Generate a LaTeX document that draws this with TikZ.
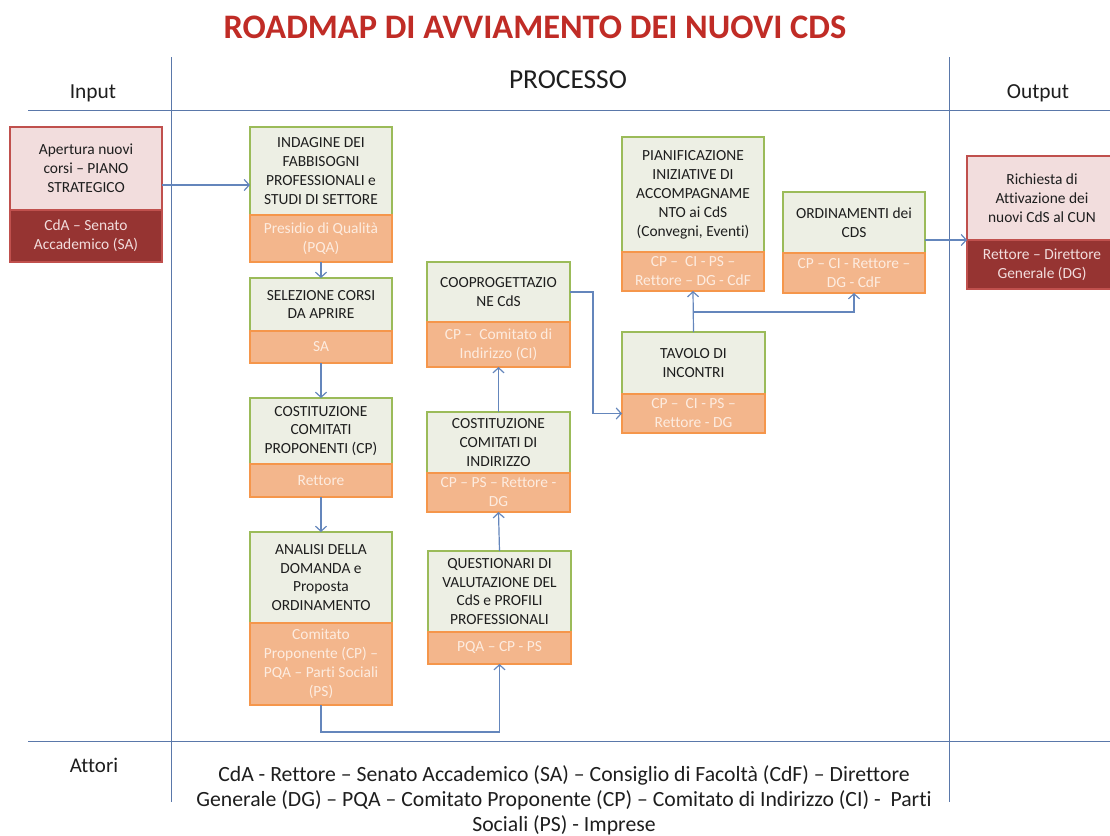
\documentclass[tikz,border=0pt]{standalone}
\usepackage{fontspec}
\setmainfont{Carlito}[Ligatures=NoCommon]
\usetikzlibrary{arrows.meta}
\definecolor{grnB}{RGB}{155,187,89}
\definecolor{grnF}{RGB}{237,239,228}
\definecolor{orB}{RGB}{245,150,75}
\definecolor{orF}{RGB}{243,182,140}
\definecolor{orT}{RGB}{253,236,224}
\definecolor{redB}{RGB}{192,80,77}
\definecolor{pinkF}{RGB}{242,221,221}
\definecolor{darkF}{RGB}{150,52,50}
\definecolor{lineC}{RGB}{100,134,188}
\definecolor{sepC}{RGB}{90,120,170}
\definecolor{titleC}{RGB}{192,44,38}
\definecolor{txtC}{RGB}{30,30,30}
\tikzset{
  base/.style={rectangle, inner sep=0pt, outer sep=0pt, line width=2.4bp, align=center,
    font=\fontsize{15.5}{19}\selectfont},
  topb/.style={base, draw=grnB, fill=grnF, text=txtC},
  botb/.style={base, draw=orB, fill=orF, text=orT},
  topr/.style={base, draw=redB, fill=pinkF, text=txtC},
  botr/.style={base, draw=redB, fill=darkF, text=pinkF},
  conn/.style={draw=lineC, line width=1.2bp, -{Straight Barb[length=5bp,width=11bp]}},
  sep/.style={draw=sepC, line width=1bp},
  hdr/.style={inner sep=0pt, text=txtC, font=\fontsize{21.5}{26}\selectfont, anchor=base},
}
% name, x, ytop, width, htop, hbot, toptext, bottext
\newcommand\pbox[8]{%
  \node[topb, anchor=north west, minimum width=#4bp, minimum height=#5bp] (#1) at (#2,#3) {#7};
  \node[botb, anchor=north west, minimum width=#4bp, minimum height=#6bp] (#1b) at (#1.south west) {#8};}
\newcommand\rbox[8]{%
  \node[topr, anchor=north west, minimum width=#4bp, minimum height=#5bp] (#1) at (#2,#3) {#7};
  \node[botr, anchor=north west, minimum width=#4bp, minimum height=#6bp] (#1b) at (#1.south west) {#8};}
\begin{document}
\begin{tikzpicture}[x=1bp, y=-1bp]
\useasboundingbox[fill=white] (0,0) rectangle (1110,836);

% title and headers
\node[inner sep=0pt, anchor=base, text=titleC, font=\fontsize{34.5}{40}\selectfont\bfseries] (title) at (535,38) {ROADMAP DI AVVIAMENTO DEI NUOVI CDS};
\node[hdr, font=\fontsize{27.5}{32}\selectfont] (proc) at (568,88) {PROCESSO};
\node[hdr] (inlab) at (93,98) {Input};
\node[hdr] (outlab) at (1038,98) {Output};
\node[hdr, font=\fontsize{21}{26}\selectfont] (attlab) at (94,772) {Attori};

% separators
\coordinate (hl1) at (28,110);
\coordinate (hr1) at (1110,110);
\coordinate (hl2) at (28,741);
\coordinate (hr2) at (1110,741);
\coordinate (v1t) at (171,57);
\coordinate (v1b) at (171,802);
\coordinate (v2t) at (949,57);
\coordinate (v2b) at (949,802);
\draw[sep] (hl1) -- (hr1);
\draw[sep] (hl2) -- (hr2);
\draw[sep] (v1t) -- (v1b);
\draw[sep] (v2t) -- (v2b);

% boxes
\rbox{inp}{10}{127}{152}{83}{52}{Apertura nuovi\\corsi – PIANO\\STRATEGICO}{CdA – Senato\\Accademico (SA)}
\pbox{ind}{250}{127}{142}{88}{47}{INDAGINE DEI\\FABBISOGNI\\PROFESSIONALI e\\STUDI DI SETTORE}{Presidio di Qualità\\(PQA)}
\pbox{sel}{250}{278}{142}{53}{32}{SELEZIONE CORSI\\DA APRIRE}{SA}
\pbox{ccp}{250}{398}{142}{66}{33}{COSTITUZIONE\\COMITATI\\PROPONENTI (CP)}{Rettore}
\pbox{ana}{250}{532}{142}{91}{82}{ANALISI DELLA\\DOMANDA e\\Proposta\\ORDINAMENTO}{Comitato\\Proponente (CP) –\\PQA – Parti Sociali\\(PS)}
\pbox{coop}{427}{262}{143}{60}{45}{COOPROGETTAZIO\\NE CdS}{CP –\ \ Comitato di\\Indirizzo (CI)}
\pbox{cci}{427}{412}{143}{61}{39}{COSTITUZIONE\\COMITATI DI\\INDIRIZZO}{CP – PS – Rettore -\\DG}
\pbox{que}{428}{551}{143}{81}{32}{QUESTIONARI DI\\VALUTAZIONE DEL\\CdS e PROFILI\\PROFESSIONALI}{PQA – CP - PS}
\pbox{pia}{622}{137}{142}{115}{39}{PIANIFICAZIONE\\INIZIATIVE DI\\ACCOMPAGNAME\\NTO ai CdS\\(Convegni, Eventi)}{CP –\ \ CI - PS –\\Rettore – DG - CdF}
\pbox{ord}{783}{192}{142}{61}{40}{ORDINAMENTI dei\\CDS}{CP – CI - Rettore –\\DG - CdF}
\pbox{tav}{622}{332}{143}{62}{39}{TAVOLO DI\\INCONTRI}{CP –\ \ CI - PS –\\Rettore - DG}
\rbox{out}{967}{156}{150}{84}{49}{Richiesta di\\Attivazione dei\\nuovi CdS al CUN}{Rettore – Direttore\\Generale (DG)}

% connectors
\coordinate (y185) at (0,185);
\coordinate (y240) at (0,240);
\coordinate (j1) at (693.5,312);
\draw[conn] (inp.east |- y185) -- (ind.west |- y185);
\draw[conn] (indb.south) -- (sel.north);
\draw[conn] (selb.south) -- (ccp.north);
\draw[conn] (ccpb.south) -- (ana.north);
\draw[conn] (anab.south) -- ++(0,27) -| (queb.south);
\draw[conn] (que.north) -- (ccib.south);
\draw[conn] (cci.north) -- (coopb.south);
\draw[conn] (coop.east) -- ++(23,0) |- (tavb.west);
\draw[conn] (tav.north) -- (piab.south);
\draw[conn] (j1) -| (ordb.south);
\draw[conn] (ord.east |- y240) -- (out.west |- y240);

% actors text
\node[inner sep=0pt, anchor=north, align=center, text=txtC, font=\fontsize{21.8}{25.5}\selectfont] (actors) at (564,765)
  {CdA - Rettore – Senato Accademico (SA) – Consiglio di Facoltà (CdF) – Direttore\\
   Generale (DG) – PQA – Comitato Proponente (CP) – Comitato di Indirizzo (CI) -\ \ Parti\\
   Sociali (PS) - Imprese};
\end{tikzpicture}
\end{document}
